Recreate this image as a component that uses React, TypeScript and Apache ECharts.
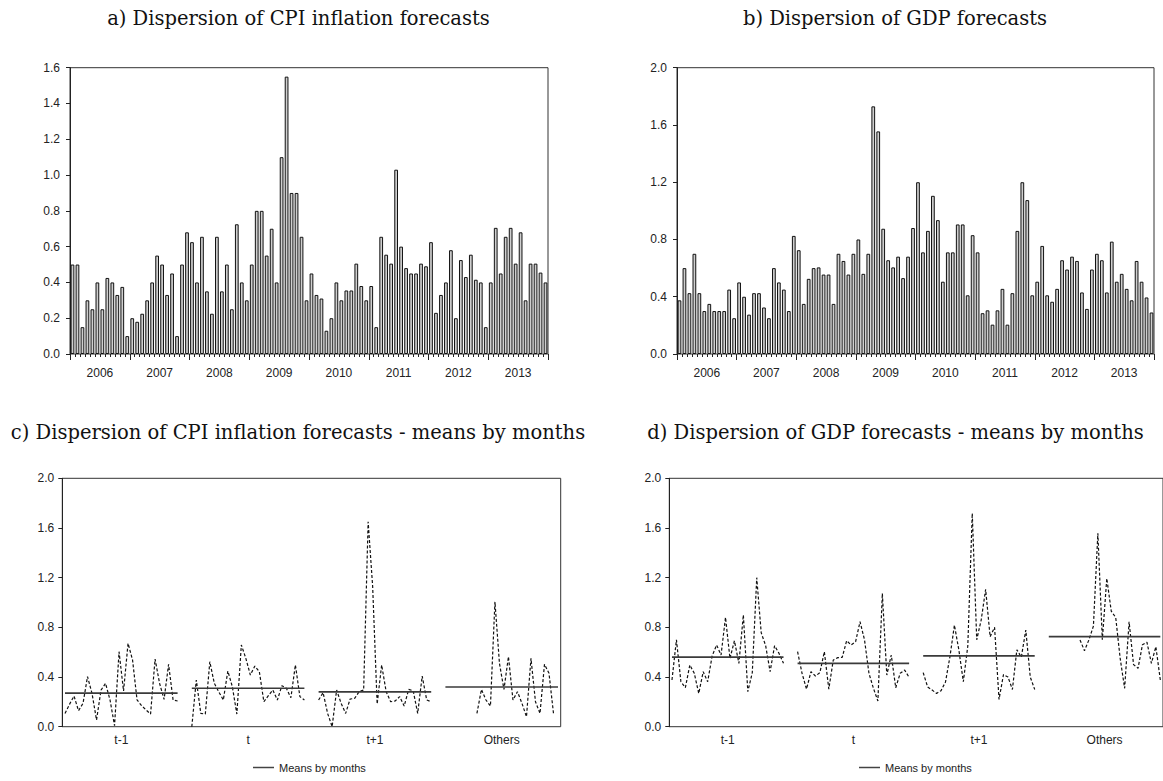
import React, { useEffect, useRef } from "react";
import * as echarts from "echarts";

// ---------- data ----------
const years = ["2006", "2007", "2008", "2009", "2010", "2011", "2012", "2013"];
const monthLabels = years.flatMap((y) =>
  Array.from({ length: 12 }, (_, i) => `${y}-${String(i + 1).padStart(2, "0")}`)
);

const cpiDispersion = [
  0.5, 0.5, 0.15, 0.3, 0.25, 0.4, 0.25, 0.425, 0.4, 0.33, 0.375, 0.1,
  0.2, 0.18, 0.225, 0.3, 0.4, 0.55, 0.5, 0.33, 0.45, 0.1, 0.5, 0.68,
  0.625, 0.4, 0.655, 0.35, 0.225, 0.655, 0.35, 0.5, 0.25, 0.725, 0.4, 0.3,
  0.5, 0.8, 0.8, 0.55, 0.7, 0.4, 1.1, 1.55, 0.9, 0.9, 0.655, 0.3,
  0.45, 0.33, 0.31, 0.13, 0.2, 0.4, 0.3, 0.355, 0.355, 0.505, 0.38, 0.3,
  0.38, 0.15, 0.655, 0.555, 0.505, 1.03, 0.6, 0.48, 0.45, 0.45, 0.505, 0.49,
  0.625, 0.23, 0.33, 0.4, 0.58, 0.2, 0.525, 0.43, 0.555, 0.415, 0.4, 0.15,
  0.4, 0.705, 0.45, 0.655, 0.705, 0.505, 0.68, 0.3, 0.505, 0.505, 0.455, 0.4,
];

const gdpDispersion = [
  0.375, 0.6, 0.425, 0.7, 0.425, 0.3, 0.35, 0.3, 0.3, 0.3, 0.45, 0.25,
  0.5, 0.4, 0.275, 0.425, 0.425, 0.325, 0.25, 0.6, 0.5, 0.45, 0.3, 0.825,
  0.725, 0.35, 0.525, 0.6, 0.605, 0.555, 0.555, 0.35, 0.7, 0.65, 0.555, 0.7,
  0.8, 0.56, 0.7, 1.73, 1.555, 0.875, 0.655, 0.605, 0.68, 0.53, 0.68, 0.88,
  1.2, 0.71, 0.86, 1.105, 0.935, 0.505, 0.71, 0.71, 0.905, 0.905, 0.41, 0.83,
  0.71, 0.285, 0.305, 0.205, 0.305, 0.455, 0.205, 0.425, 0.86, 1.2, 1.075, 0.41,
  0.505, 0.755, 0.41, 0.365, 0.455, 0.655, 0.59, 0.68, 0.65, 0.43, 0.315, 0.59,
  0.7, 0.655, 0.43, 0.785, 0.505, 0.56, 0.455, 0.375, 0.65, 0.505, 0.395, 0.29,
];

const groupLabels = ["t-1", "t", "t+1", "Others"];

const cpiTm1 = [0.107, 0.18, 0.247, 0.129, 0.188, 0.403, 0.268, 0.054, 0.295, 0.349, 0.215, 0.008, 0.604, 0.287, 0.671, 0.537, 0.215, 0.17, 0.135, 0.102, 0.545, 0.349, 0.22, 0.502, 0.215, 0.207];
const cpiT = [0.0, 0.376, 0.107, 0.102, 0.523, 0.349, 0.28, 0.215, 0.448, 0.322, 0.102, 0.658, 0.55, 0.416, 0.488, 0.443, 0.201, 0.25, 0.295, 0.215, 0.33, 0.309, 0.233, 0.497, 0.242, 0.215];
const cpiTp1 = [0.215, 0.274, 0.107, 0.0, 0.295, 0.188, 0.107, 0.223, 0.228, 0.282, 0.295, 1.65, 1.13, 0.183, 0.497, 0.282, 0.201, 0.207, 0.242, 0.166, 0.3, 0.29, 0.107, 0.408, 0.215, 0.201];
const cpiOthers = [null, null, null, null, null, null, null, 0.107, 0.3, 0.215, 0.166, 1.006, 0.51, 0.3, 0.564, 0.215, 0.282, 0.188, 0.08, 0.55, 0.201, 0.107, 0.502, 0.43, 0.107, null];
const cpiMeans = [0.27, 0.31, 0.28, 0.32];

const gdpTm1 = [0.376, 0.7, 0.362, 0.314, 0.497, 0.43, 0.268, 0.443, 0.362, 0.569, 0.658, 0.577, 0.88, 0.55, 0.692, 0.51, 0.9, 0.282, 0.435, 1.2, 0.757, 0.652, 0.443, 0.652, 0.59, 0.51];
const gdpT = [0.604, 0.43, 0.303, 0.443, 0.408, 0.435, 0.604, 0.303, 0.537, 0.556, 0.558, 0.692, 0.658, 0.684, 0.845, 0.7, 0.43, 0.309, 0.207, 1.074, 0.416, 0.577, 0.314, 0.43, 0.456, 0.397];
const gdpTp1 = [0.435, 0.32, 0.295, 0.268, 0.29, 0.36, 0.564, 0.818, 0.617, 0.362, 0.65, 1.718, 0.7, 0.859, 1.106, 0.725, 0.8, 0.22, 0.42, 0.4, 0.3, 0.62, 0.56, 0.778, 0.4, 0.3];
const gdpOthers = [null, null, null, null, null, null, null, 0.698, 0.612, 0.7, 0.81, 1.557, 0.7, 1.194, 0.93, 0.88, 0.55, 0.309, 0.845, 0.5, 0.47, 0.66, 0.68, 0.51, 0.644, 0.376];
const gdpMeans = [0.56, 0.51, 0.57, 0.725];

// ---------- layout ----------
const FONT = "'Liberation Sans', Arial, sans-serif";
const SERIF = "'DejaVu Serif', 'Liberation Serif', serif";
const SEG_START = 2.7;
const SEG_W = 112.5;
const SEG_GAP = 14.2;
const AXIS_MAX = 498;
const segStart = (k: number) => SEG_START + k * (SEG_W + SEG_GAP);
const segCenters = groupLabels.map((_, k) => segStart(k) + SEG_W / 2);

function lineSeries(groups: (number | null)[][], means: number[], xIdx: number, yIdx: number, prefix: string) {
  const out: any[] = [];
  groups.forEach((arr, k) => {
    const n = arr.length;
    const pts: any[] = [];
    arr.forEach((v, i) => {
      if (v !== null) pts.push([segStart(k) + (i * SEG_W) / (n - 1), v]);
    });
    out.push({
      name: `${prefix} ${groupLabels[k]}`,
      type: "line",
      xAxisIndex: xIdx,
      yAxisIndex: yIdx,
      data: pts,
      symbol: "none",
      silent: true,
      lineStyle: { type: [3, 2], width: 1.2, color: "#111" },
      z: 2,
    });
    out.push({
      name: "Means by months",
      type: "line",
      xAxisIndex: xIdx,
      yAxisIndex: yIdx,
      data: [
        [segStart(k), means[k]],
        [segStart(k) + SEG_W, means[k]],
      ],
      symbol: "none",
      silent: true,
      color: "#444",
      lineStyle: { width: 1.6, color: "#3a3a3a", type: "solid" },
      z: 3,
    });
  });
  return out;
}

const gridBase = { show: true, borderColor: "#333", borderWidth: 1, backgroundColor: "transparent" };

const monthAxis = (g: number) => ({
  gridIndex: g,
  type: "category",
  data: monthLabels,
  position: "bottom",
  axisLine: { show: false },
  axisTick: { show: true, interval: 0, length: 3, lineStyle: { color: "#222" } },
  axisLabel: { show: false },
  splitLine: { show: false },
});
const yearAxis = (g: number) => ({
  gridIndex: g,
  type: "category",
  data: years,
  position: "bottom",
  axisLine: { show: false },
  axisTick: { show: true, interval: 0, length: 6, lineStyle: { color: "#222" } },
  axisLabel: { interval: 0, fontSize: 12, margin: 13, color: "#222", fontFamily: FONT },
  splitLine: { show: false },
});
const groupAxis = (g: number) => ({
  gridIndex: g,
  type: "value",
  min: 0,
  max: AXIS_MAX,
  position: "bottom",
  axisLine: { show: false },
  axisTick: { show: false },
  splitLine: { show: false },
  axisLabel: {
    customValues: segCenters,
    fontSize: 12,
    margin: 7,
    color: "#222",
    fontFamily: FONT,
    formatter: (v: number) => {
      const idx = segCenters.findIndex((c) => Math.abs(c - v) < 1);
      return idx >= 0 ? groupLabels[idx] : "";
    },
  },
});
const yAxisDef = (g: number, max: number, interval: number, margin: number) => ({
  gridIndex: g,
  type: "value",
  min: 0,
  max,
  interval,
  axisLine: { show: true, lineStyle: { color: "#222" } },
  axisTick: { show: true, length: 4, lineStyle: { color: "#222" } },
  splitLine: { show: false },
  axisLabel: {
    fontSize: 12,
    margin,
    color: "#222",
    fontFamily: FONT,
    formatter: (v: number) => v.toFixed(1),
  },
});

const titleText = (x: number, y: number, text: string) => ({
  type: "text",
  x,
  y,
  style: {
    text,
    fill: "#111",
    font: `19.5px ${SERIF}`,
    textAlign: "center",
    textVerticalAlign: "middle",
  },
});

const legendDef = (left: number) => ({
  data: ["Means by months"],
  left,
  top: 762,
  icon: "rect",
  itemWidth: 21,
  itemHeight: 1.5,
  selectedMode: false,
  itemStyle: { color: "#444" },
  textStyle: { fontSize: 11, color: "#222", fontFamily: FONT },
  padding: 0,
});

export default function App() {
  const ref = useRef<HTMLDivElement>(null);
  useEffect(() => {
    if (!ref.current) return;
    const chart = echarts.init(ref.current, null, { renderer: "svg" });
    chart.setOption({
      animation: false,
      backgroundColor: "#fff",
      grid: [
        { ...gridBase, left: 70, top: 67.7, width: 478, height: 286.3 },
        { ...gridBase, left: 677, top: 67.7, width: 477, height: 286.3 },
        { ...gridBase, left: 62.3, top: 478.3, width: 498.4, height: 248.4 },
        { ...gridBase, left: 669.3, top: 478.3, width: 498.4, height: 248.4 },
      ],
      xAxis: [monthAxis(0), yearAxis(0), monthAxis(1), yearAxis(1), groupAxis(2), groupAxis(3)],
      yAxis: [
        yAxisDef(0, 1.6, 0.2, 10),
        yAxisDef(1, 2.0, 0.4, 10),
        yAxisDef(2, 2.0, 0.4, 8),
        yAxisDef(3, 2.0, 0.4, 8),
      ],
      legend: [legendDef(253), legendDef(859)],
      graphic: [
        titleText(298.5, 18, "a) Dispersion of CPI inflation forecasts"),
        titleText(895, 18, "b) Dispersion of GDP forecasts"),
        titleText(298, 432, "c) Dispersion of CPI inflation forecasts - means by months"),
        titleText(895.5, 432, "d) Dispersion of GDP forecasts - means by months"),
      ],
      series: [
        {
          name: "CPI dispersion",
          type: "bar",
          xAxisIndex: 0,
          yAxisIndex: 0,
          data: cpiDispersion,
          barCategoryGap: "25%",
          silent: true,
          itemStyle: { color: "#cfcfcf", borderColor: "#111", borderWidth: 1 },
        },
        {
          name: "GDP dispersion",
          type: "bar",
          xAxisIndex: 2,
          yAxisIndex: 1,
          data: gdpDispersion,
          barCategoryGap: "25%",
          silent: true,
          itemStyle: { color: "#cfcfcf", borderColor: "#111", borderWidth: 1 },
        },
        ...lineSeries([cpiTm1, cpiT, cpiTp1, cpiOthers], cpiMeans, 4, 2, "CPI"),
        ...lineSeries([gdpTm1, gdpT, gdpTp1, gdpOthers], gdpMeans, 5, 3, "GDP"),
      ],
    });
    return () => chart.dispose();
  }, []);
  return (
    <div
      ref={ref}
      style={{ position: "absolute", left: 0, top: 0, width: 1163, height: 781, background: "#fff" }}
    />
  );
}
